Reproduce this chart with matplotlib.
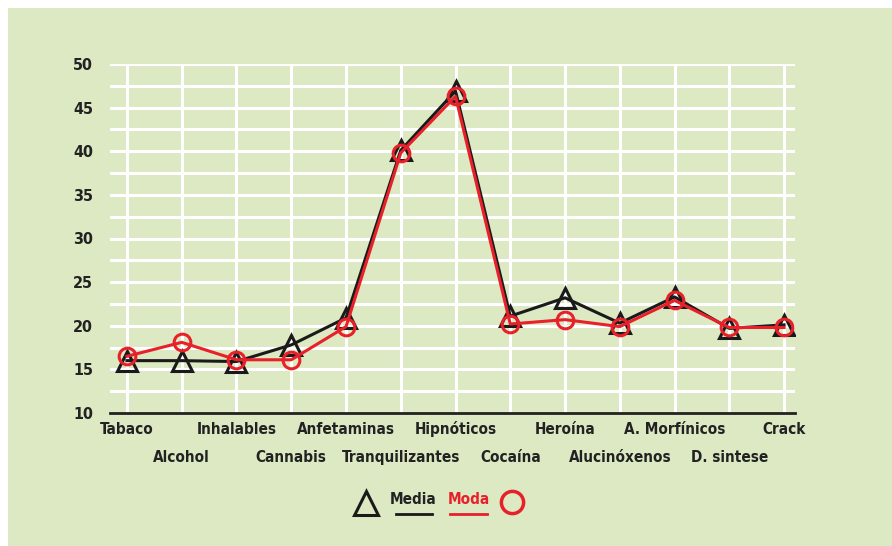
import matplotlib.pyplot as plt
from matplotlib.patches import Rectangle
from matplotlib.lines import Line2D

categorias = ["Tabaco", "Alcohol", "Inhalables", "Cannabis", "Anfetaminas",
              "Tranquilizantes", "Hipnóticos", "Cocaína", "Heroína",
              "Alucinóxenos", "A. Morfínicos", "D. sintese", "Crack"]
media = [16.0, 16.0, 15.9, 17.8, 20.9, 40.1, 46.9, 21.1, 23.2, 20.3, 23.3, 19.7, 20.1]
moda = [16.5, 18.1, 16.1, 16.1, 19.9, 39.8, 46.3, 20.2, 20.7, 19.9, 22.9, 19.8, 19.8]
yticks = [10, 15, 20, 25, 30, 35, 40, 45, 50]

BG = "#dce9c3"
RED = "#e8202a"
FONT = ["Liberation Sans Narrow", "DejaVu Sans"]
TXT = dict(fontweight="bold", family=FONT, fontstretch="condensed", color="#222222")

W, H = 892, 546
fig = plt.figure(figsize=(W / 100, H / 100), dpi=100)
fig.patch.set_facecolor(BG)
# white margin on the left and top
fig.patches.append(Rectangle((0, 0), 8 / W, 1, transform=fig.transFigure,
                             facecolor="white", edgecolor="none"))
fig.patches.append(Rectangle((0, 1 - 8 / H), 1, 8 / H, transform=fig.transFigure,
                             facecolor="white", edgecolor="none"))

ax = fig.add_axes([110 / W, 1 - 413 / H, 685 / W, 349 / H])
ax.set_facecolor(BG)
x = list(range(len(categorias)))

# grid
for yv in [10 + 2.5 * i for i in range(1, 17)]:
    ax.axhline(yv, color="white", lw=2.2, zorder=1)
for xv in x:
    ax.axvline(xv, color="white", lw=2.2, zorder=1)

ax.plot(x, media, color="#1a1a1a", lw=2.2, marker="^", ms=14, mfc="none",
        mec="#1a1a1a", mew=2.2, zorder=3)
ax.plot(x, moda, color=RED, lw=2.2, marker="o", ms=12, mfc="none",
        mec=RED, mew=2.2, zorder=4)

ax.set_xlim(-0.31, 12.2)
ax.set_ylim(10, 50)
for s in ["top", "right", "left"]:
    ax.spines[s].set_visible(False)
ax.spines["bottom"].set_linewidth(2)
ax.spines["bottom"].set_color("#222222")
ax.set_yticks(yticks)
ax.set_yticklabels([str(v) for v in yticks], fontsize=11.5, **TXT)
ax.tick_params(axis="y", length=0, pad=12)
ax.set_xticks([])

for i, c in enumerate(categorias):
    yoff = -0.047 if i % 2 == 0 else -0.127
    ax.text(i, yoff, c, transform=ax.get_xaxis_transform(), ha="center", va="center",
            fontsize=11, **TXT)

# legend
fig.add_artist(Line2D([366 / W], [1 - 503 / H], marker="^", ms=17, mfc="none",
                      mec="#1a1a1a", mew=2.2, transform=fig.transFigure))
fig.text(413 / W, 1 - 500 / H, "Media", ha="center", va="center", fontsize=11, **TXT)
fig.add_artist(Line2D([396 / W, 432 / W], [1 - 514 / H] * 2, color="#1a1a1a", lw=2,
                      transform=fig.transFigure))
TXT_RED = dict(TXT, color=RED)
fig.text(469 / W, 1 - 500 / H, "Moda", ha="center", va="center", fontsize=11, **TXT_RED)
fig.add_artist(Line2D([450 / W, 487 / W], [1 - 514 / H] * 2, color=RED, lw=2,
                      transform=fig.transFigure))
fig.add_artist(Line2D([512 / W], [1 - 502 / H], marker="o", ms=16, mfc="none",
                      mec=RED, mew=2.5, transform=fig.transFigure))

fig.savefig("out.png", dpi=100, facecolor=fig.get_facecolor())
